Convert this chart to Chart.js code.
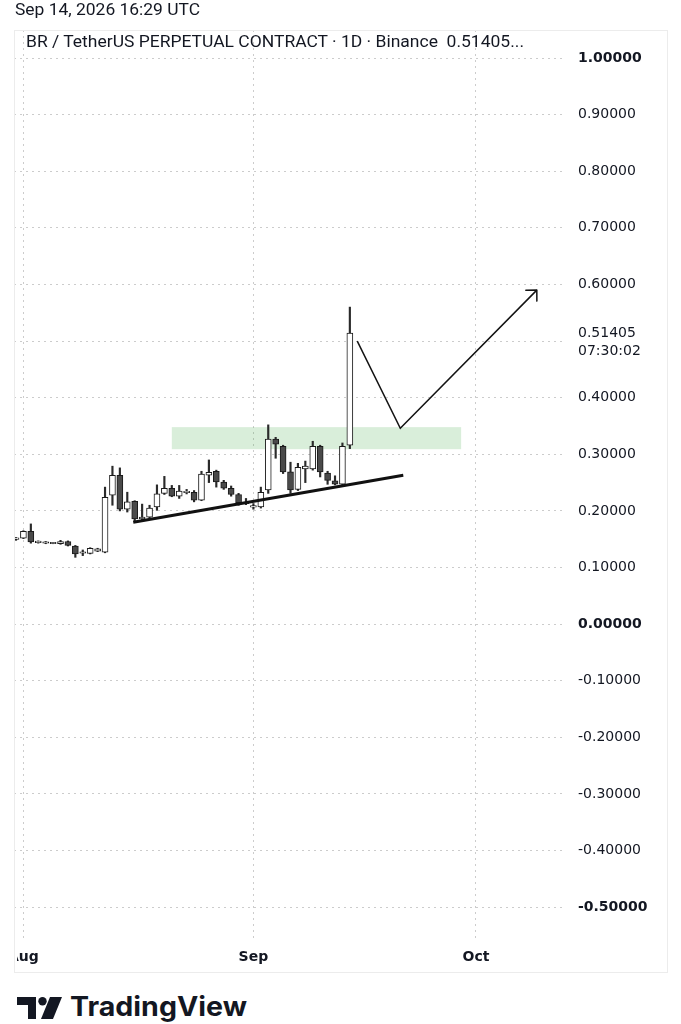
<!DOCTYPE html>
<html><head><meta charset="utf-8">
<script src="https://cdn.jsdelivr.net/npm/chart.js@4.4.1/dist/chart.umd.min.js"></script>
<style>
html,body{margin:0;padding:0;background:#fff;width:681px;height:1024px;overflow:hidden;}
#wrap{position:relative;width:681px;height:1024px;}
#c{position:absolute;left:0;top:0;}
.fit{position:absolute;white-space:nowrap;transform-origin:0 0;color:#131722;}
#stamp{left:15px;top:0px;font:16px Roboto, sans-serif;}
#title{left:26px;top:32px;font:16px Roboto, sans-serif;}
#logoTxt{left:70px;top:990px;font:700 27px Inter, sans-serif;color:#131722;}
#logoIcon{position:absolute;left:17px;top:997px;}
</style></head>
<body><div id="wrap">
<canvas id="c" width="681" height="980"></canvas>
<div id="stamp" class="fit" data-w="185">Sep 14, 2026 16:29 UTC</div>
<div id="title" class="fit" data-w="498">BR / TetherUS PERPETUAL CONTRACT · 1D · Binance&nbsp; 0.51405...</div>
<svg id="logoIcon" width="46" height="22" viewBox="0 0 46 22">
  <path d="M0 0 H19 V22 H11 V8 H0 Z" fill="#131722"/>
  <circle cx="25.5" cy="4.2" r="4.2" fill="#131722"/>
  <path d="M33 0 H45 L36 22 H24 Z" fill="#131722"/>
</svg>
<div id="logoTxt" class="fit" data-w="177">TradingView</div>
</div>
<script>
// ---- data ----
const dates = ['Jul 31','Aug 1','Aug 2','Aug 3','Aug 4','Aug 5','Aug 6','Aug 7','Aug 8','Aug 9','Aug 10','Aug 11','Aug 12','Aug 13','Aug 14','Aug 15','Aug 16','Aug 17','Aug 18','Aug 19','Aug 20','Aug 21','Aug 22','Aug 23','Aug 24','Aug 25','Aug 26','Aug 27','Aug 28','Aug 29','Aug 30','Aug 31','Sep 1','Sep 2','Sep 3','Sep 4','Sep 5','Sep 6','Sep 7','Sep 8','Sep 9','Sep 10','Sep 11','Sep 12','Sep 13','Sep 14'];
const opens  = [0.150,0.152,0.164,0.145,0.144,0.143,0.142,0.146,0.138,0.126,0.125,0.129,0.127,0.228,0.263,0.203,0.217,0.186,0.189,0.207,0.231,0.240,0.226,0.233,0.233,0.219,0.263,0.270,0.251,0.240,0.229,0.213,0.207,0.207,0.237,0.327,0.314,0.269,0.238,0.274,0.274,0.314,0.267,0.253,0.247,0.316];
const highs  = [0.153,0.165,0.177,0.147,0.146,0.144,0.148,0.147,0.139,0.131,0.135,0.134,0.242,0.279,0.276,0.233,0.218,0.212,0.210,0.246,0.261,0.245,0.245,0.238,0.236,0.270,0.290,0.272,0.254,0.244,0.231,0.222,0.213,0.242,0.352,0.330,0.316,0.286,0.284,0.288,0.323,0.316,0.270,0.262,0.320,0.560];
const lows   = [0.148,0.151,0.143,0.143,0.142,0.142,0.141,0.138,0.118,0.121,0.124,0.128,0.126,0.210,0.200,0.198,0.182,0.184,0.188,0.201,0.229,0.225,0.222,0.230,0.216,0.218,0.250,0.242,0.238,0.226,0.210,0.211,0.203,0.205,0.231,0.293,0.266,0.231,0.236,0.250,0.272,0.260,0.247,0.246,0.245,0.310];
const closes = [0.152,0.164,0.145,0.1455,0.1445,0.1435,0.146,0.139,0.124,0.127,0.134,0.133,0.224,0.263,0.203,0.216,0.186,0.189,0.205,0.230,0.240,0.226,0.235,0.234,0.219,0.265,0.268,0.251,0.240,0.229,0.214,0.215,0.209,0.233,0.327,0.318,0.269,0.237,0.277,0.279,0.314,0.269,0.254,0.247,0.314,0.514];
const yTicks = [1.0,0.9,0.8,0.7,0.6,0.5,0.4,0.3,0.2,0.1,0.0,-0.1,-0.2,-0.3,-0.4,-0.5];
const yBold = [1.0,0.0,-0.5];
const xTickDays = [1,32,62];
const xTickLabels = ['Aug','Sep','Oct'];
const lastPrice = 0.51405;
const countdown = '07:30:02';
// drawings (in data units: day index, price)
const trendX = [15.8,52.2];
const trendY = [0.180,0.263];
const pathX = [46.0,51.8,70.2];
const pathY = [0.500,0.346,0.590];
const zoneX = [21.0,60.0];
const zoneY = [0.309,0.348];

// ---- build datasets ----
const wickData = dates.map((d,i)=>({x:i,y:[lows[i],highs[i]]}));
const bodyData = dates.map((d,i)=>{
  let o=opens[i], c=closes[i];
  if (Math.abs(c-o)<0.0025){const m=(o+c)/2; return {x:i,y:[m-0.00125,m+0.00125]};}
  return {x:i,y:[o,c]};
});
const bodyColors = dates.map((d,i)=> closes[i]>=opens[i] ? '#ffffff' : '#4a4a4a');

const fitEls = document.querySelectorAll('.fit');
fitEls.forEach(el=>{const w=el.getBoundingClientRect().width; const t=+el.dataset.w; el.style.transform='scaleX('+(t/w)+')';});

const overlay = {
  id:'overlay',
  beforeDraw(chart){
    const ctx=chart.ctx; ctx.save(); ctx.fillStyle='#fff'; ctx.fillRect(0,0,chart.width,chart.height); ctx.restore();
  },
  beforeDatasetsDraw(chart){
    const {ctx,scales:{x,y}}=chart;
    ctx.save();
    ctx.fillStyle='rgba(76,175,80,0.21)';
    const x0=x.getPixelForValue(zoneX[0]), x1=x.getPixelForValue(zoneX[1]);
    const y0=y.getPixelForValue(zoneY[1]), y1=y.getPixelForValue(zoneY[0]);
    ctx.fillRect(x0,y0,x1-x0,y1-y0);
    ctx.restore();
  },
  afterDatasetsDraw(chart){
    const {ctx,scales:{x,y}}=chart;
    const n=pathX.length;
    const tx=x.getPixelForValue(pathX[n-1]), ty=y.getPixelForValue(pathY[n-1]);
    const px=x.getPixelForValue(pathX[n-2]), py=y.getPixelForValue(pathY[n-2]);
    const a=Math.atan2(ty-py,tx-px);
    ctx.save(); ctx.strokeStyle='#131313'; ctx.lineWidth=1.5; ctx.lineCap='round';
    ctx.beginPath();
    [Math.PI*0.75,-Math.PI*0.75].forEach(d=>{ctx.moveTo(tx,ty); ctx.lineTo(tx+11*Math.cos(a+d),ty+11*Math.sin(a+d));});
    ctx.stroke(); ctx.restore();
  },
  afterDraw(chart){
    const {ctx,chartArea:ca,scales:{x,y}}=chart;
    ctx.save();
    // frame
    ctx.strokeStyle='#ececec'; ctx.lineWidth=1;
    ctx.strokeRect(14.5,30.5,667-14,972-30);
    // x labels
    ctx.beginPath(); ctx.rect(ca.left+3,0,chart.width-ca.left,chart.height); ctx.clip();
    ctx.fillStyle='#131722'; ctx.font='bold 14px "DejaVu Sans"'; ctx.textAlign='center'; ctx.textBaseline='middle';
    xTickDays.forEach((v,i)=>ctx.fillText(xTickLabels[i], x.getPixelForValue(v), 957));
    ctx.restore();
    // last price label
    ctx.save();
    ctx.fillStyle='#131722'; ctx.font='14px "DejaVu Sans"'; ctx.textAlign='left'; ctx.textBaseline='middle';
    const py=y.getPixelForValue(lastPrice);
    ctx.fillText(lastPrice.toFixed(5), ca.right+13, py);
    ctx.fillText(countdown, ca.right+13, py+18);
    ctx.restore();
  }
};

new Chart(document.getElementById('c'),{
  type:'bar',
  data:{datasets:[
    {type:'line',data:trendX.map((v,i)=>({x:v,y:trendY[i]})),borderColor:'#111',borderWidth:3,pointRadius:0,order:-2,clip:false},
    {type:'line',data:pathX.map((v,i)=>({x:v,y:pathY[i]})),borderColor:'#131313',borderWidth:1.5,pointRadius:0,order:-1,clip:false},
    {data:bodyData,backgroundColor:bodyColors,borderColor:'#1a1a1a',borderWidth:1,borderSkipped:false,grouped:false,barThickness:6,maxBarThickness:6,order:0},
    {data:wickData,backgroundColor:'#2a2a2a',borderWidth:0,grouped:false,barThickness:1.5,maxBarThickness:1.5,order:1}
  ]},
  options:{
    responsive:false,animation:false,devicePixelRatio:1,
    layout:{padding:{left:14,top:30,right:0,bottom:0}},
    plugins:{legend:{display:false},tooltip:{enabled:false}},
    scales:{
      x:{type:'linear',min:-0.27,max:74,offset:false,
         afterBuildTicks:s=>{s.ticks=xTickDays.map(v=>({value:v}));},
         ticks:{display:false},
         grid:{offset:false,color:'#cccccc',lineWidth:1,drawTicks:false},
         border:{display:false,dash:[2,4]},
         afterFit:s=>{s.height=40;}},
      y:{position:'right',min:-0.558,max:1.0495,
         afterBuildTicks:s=>{s.ticks=yTicks.map(v=>({value:v}));},
         ticks:{padding:13,color:'#131722',
           font:(c)=>({family:'DejaVu Sans',size:14,weight:(c.tick&&yBold.some(b=>Math.abs(b-c.tick.value)<1e-9))?'bold':'normal'}),
           callback:(v)=>Math.abs(v-0.5)<1e-9?'':(Math.abs(v)<1e-9?0:v).toFixed(5)},
         grid:{color:'#cccccc',lineWidth:1,drawTicks:false},
         border:{display:false,dash:[2,4]},
         afterFit:s=>{s.width=116;}}
    }
  },
  plugins:[overlay]
});
</script>
</body></html>
